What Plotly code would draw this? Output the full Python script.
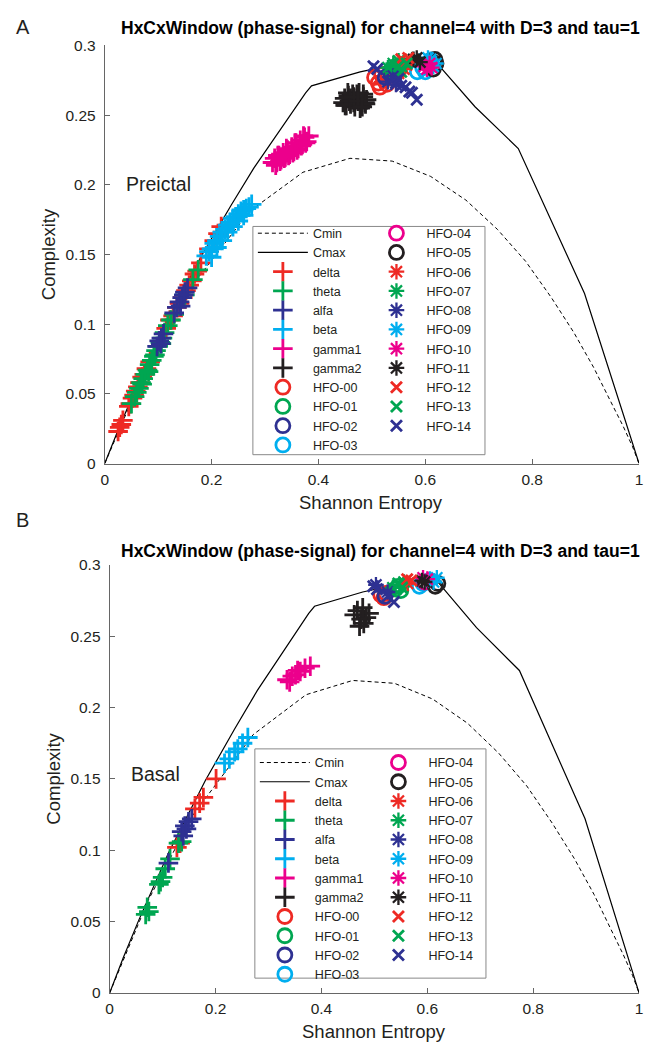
import plotly.graph_objects as go

# ---------------- data ----------------
CMAX_H = [0, 0.026, 0.055, 0.111, 0.181, 0.236, 0.279, 0.341, 0.376, 0.387, 0.478, 0.565, 0.613, 0.693, 0.774, 0.898, 1.0]
CMAX_C = [0, 0.025, 0.051, 0.098, 0.149, 0.185, 0.212, 0.247, 0.266, 0.271, 0.281, 0.288, 0.291, 0.256, 0.226, 0.122, 0.0]
CMIN_H = [0, 0.073, 0.156, 0.271, 0.371, 0.459, 0.538, 0.610, 0.676, 0.735, 0.788, 0.836, 0.878, 0.915, 0.945, 0.970, 0.988, 1.0]
CMIN_C = [0, 0.065, 0.124, 0.181, 0.209, 0.219, 0.217, 0.206, 0.189, 0.168, 0.145, 0.119, 0.094, 0.069, 0.046, 0.027, 0.012, 0.0]

BANDS = ["delta", "theta", "alfa", "beta", "gamma1", "gamma2"]
HFO_NAMES = ["HFO-%02d" % i for i in range(15)]

X_TICKS = [0, 0.2, 0.4, 0.6, 0.8, 1]
X_TICKTEXT = ["0", "0.2", "0.4", "0.6", "0.8", "1"]
Y_TICKS = [0, 0.05, 0.1, 0.15, 0.2, 0.25, 0.3]
Y_TICKTEXT = ["0", "0.05", "0.1", "0.15", "0.2", "0.25", "0.3"]

# Panel A (Preictal)
A_DELTA_H = [0.025, 0.028, 0.031, 0.034, 0.045, 0.048, 0.052, 0.055, 0.058, 0.062, 0.066, 0.070, 0.074, 0.078, 0.085,
             0.115, 0.122, 0.128, 0.135, 0.140, 0.146, 0.152, 0.158, 0.163, 0.168, 0.173, 0.180, 0.195, 0.205, 0.212, 0.218]
A_DELTA_C = [0.023, 0.026, 0.028, 0.031, 0.041, 0.043, 0.047, 0.049, 0.052, 0.055, 0.058, 0.062, 0.064, 0.068, 0.073,
             0.097, 0.103, 0.106, 0.112, 0.115, 0.119, 0.124, 0.128, 0.131, 0.136, 0.138, 0.144, 0.154, 0.160, 0.165, 0.170]
A_THETA_H = [0.050, 0.056, 0.060, 0.064, 0.068, 0.072, 0.076, 0.080, 0.084, 0.088, 0.092, 0.096, 0.100, 0.104, 0.108,
             0.112, 0.118, 0.124, 0.130, 0.150, 0.165, 0.175, 0.070, 0.082, 0.094, 0.106]
A_THETA_C = [0.043, 0.048, 0.051, 0.054, 0.058, 0.061, 0.064, 0.067, 0.071, 0.074, 0.077, 0.081, 0.084, 0.087, 0.090,
             0.094, 0.099, 0.103, 0.107, 0.121, 0.132, 0.139, 0.057, 0.066, 0.078, 0.086]
A_ALFA_H = [0.098, 0.102, 0.106, 0.110, 0.105, 0.130, 0.135, 0.140, 0.145, 0.150, 0.155, 0.142, 0.148]
A_ALFA_C = [0.084, 0.088, 0.090, 0.093, 0.086, 0.108, 0.112, 0.116, 0.119, 0.123, 0.126, 0.113, 0.121]
A_BETA_H = [0.190, 0.195, 0.200, 0.205, 0.210, 0.215, 0.220, 0.225, 0.230, 0.235, 0.240, 0.245, 0.250, 0.255, 0.260,
            0.265, 0.270, 0.275, 0.200, 0.210, 0.220, 0.230, 0.240, 0.250, 0.260]
A_BETA_C = [0.149, 0.152, 0.154, 0.158, 0.160, 0.163, 0.166, 0.168, 0.171, 0.173, 0.176, 0.177, 0.179, 0.181, 0.182,
            0.183, 0.184, 0.186, 0.148, 0.155, 0.160, 0.166, 0.170, 0.174, 0.178]
A_GAMMA1_H = [0.314, 0.318, 0.322, 0.326, 0.330, 0.334, 0.338, 0.342, 0.346, 0.350, 0.354, 0.358, 0.362, 0.366, 0.370,
              0.374, 0.378, 0.382, 0.320, 0.328, 0.336, 0.344, 0.352, 0.360, 0.368, 0.376, 0.324, 0.340, 0.356, 0.372]
A_GAMMA1_C = [0.216, 0.219, 0.216, 0.221, 0.218, 0.223, 0.220, 0.225, 0.222, 0.227, 0.224, 0.230, 0.226, 0.232, 0.229,
              0.234, 0.231, 0.235, 0.214, 0.217, 0.219, 0.221, 0.223, 0.225, 0.228, 0.230, 0.221, 0.226, 0.230, 0.235]
A_GAMMA2_H = [0.446, 0.449, 0.452, 0.456, 0.460, 0.464, 0.468, 0.472, 0.476, 0.480, 0.484, 0.487, 0.490, 0.450, 0.455,
              0.460, 0.466, 0.472, 0.478, 0.484, 0.488, 0.458, 0.466, 0.474, 0.482]
A_GAMMA2_C = [0.259, 0.262, 0.257, 0.264, 0.258, 0.265, 0.256, 0.262, 0.266, 0.257, 0.263, 0.259, 0.261, 0.257, 0.266,
              0.262, 0.259, 0.265, 0.255, 0.265, 0.258, 0.260, 0.263, 0.260, 0.256]
A_HFO_H = [
    [0.505, 0.512, 0.518, 0.523, 0.528, 0.515],
    [0.535, 0.545, 0.540, 0.550],
    [0.525, 0.535],
    [0.585, 0.595, 0.600],
    [0.605, 0.610],
    [0.615, 0.620, 0.618, 0.610],
    [0.550, 0.560, 0.565],
    [0.530, 0.540, 0.550, 0.555, 0.560, 0.545],
    [0.530, 0.540, 0.545],
    [0.590, 0.600, 0.610, 0.615, 0.605, 0.620],
    [0.598, 0.603, 0.608, 0.612],
    [0.578, 0.584, 0.590],
    [0.555, 0.563, 0.568],
    [0.550, 0.555, 0.565],
    [0.503, 0.510, 0.545, 0.555, 0.563, 0.570, 0.575, 0.584, 0.550],
]
A_HFO_C = [
    [0.277, 0.273, 0.279, 0.275, 0.272, 0.270],
    [0.282, 0.285, 0.279, 0.283],
    [0.277, 0.280],
    [0.281, 0.284, 0.281],
    [0.286, 0.288],
    [0.283, 0.287, 0.290, 0.289],
    [0.280, 0.283, 0.286],
    [0.284, 0.287, 0.289, 0.285, 0.289, 0.281],
    [0.274, 0.278, 0.272],
    [0.289, 0.287, 0.290, 0.285, 0.291, 0.287],
    [0.285, 0.283, 0.287, 0.284],
    [0.290, 0.291, 0.288],
    [0.290, 0.288, 0.291],
    [0.285, 0.281, 0.287],
    [0.285, 0.283, 0.273, 0.271, 0.270, 0.267, 0.266, 0.261, 0.276],
]

# Panel B (Basal)
B_DELTA_H = [0.127, 0.133, 0.161, 0.170, 0.177, 0.201]
B_DELTA_C = [0.102, 0.105, 0.129, 0.133, 0.137, 0.150]
B_THETA_H = [0.068, 0.071, 0.074, 0.093, 0.096, 0.100, 0.105, 0.114, 0.130, 0.136]
B_THETA_C = [0.055, 0.060, 0.057, 0.076, 0.078, 0.081, 0.087, 0.094, 0.105, 0.106]
B_ALFA_H = [0.111, 0.136, 0.142, 0.145, 0.149, 0.155, 0.139]
B_ALFA_C = [0.091, 0.113, 0.117, 0.115, 0.120, 0.122, 0.110]
B_BETA_H = [0.217, 0.226, 0.236, 0.242, 0.251, 0.261]
B_BETA_C = [0.161, 0.164, 0.169, 0.171, 0.175, 0.179]
B_GAMMA1_H = [0.335, 0.345, 0.351, 0.360, 0.369, 0.379, 0.340, 0.355]
B_GAMMA1_C = [0.2195, 0.222, 0.223, 0.2253, 0.2276, 0.229, 0.218, 0.226]
B_GAMMA2_H = [0.462, 0.468, 0.475, 0.480, 0.485, 0.472, 0.490, 0.478]
B_GAMMA2_C = [0.265, 0.268, 0.262, 0.259, 0.263, 0.257, 0.266, 0.270]
B_HFO_H = [
    [0.512, 0.518, 0.522],
    [0.540, 0.545, 0.550],
    [0.520],
    [0.585, 0.592],
    [0.595],
    [0.615, 0.620],
    [0.563],
    [0.548, 0.556, 0.535],
    [0.503, 0.525],
    [0.605, 0.612, 0.618],
    [0.592, 0.600],
    [0.590, 0.595],
    [0.562, 0.570],
    [0.552, 0.545],
    [0.498, 0.505, 0.525, 0.537],
]
B_HFO_C = [
    [0.279, 0.277, 0.280],
    [0.283, 0.285, 0.282],
    [0.278],
    [0.285, 0.287],
    [0.288],
    [0.285, 0.287],
    [0.287],
    [0.286, 0.288, 0.284],
    [0.286, 0.281],
    [0.290, 0.288, 0.291],
    [0.291, 0.290],
    [0.289, 0.288],
    [0.290, 0.289],
    [0.284, 0.287],
    [0.285, 0.283, 0.278, 0.274],
]

# ---------------- style ----------------
COLORS = ["#EE2A24", "#00A651", "#2E3192", "#00AEEF", "#EC008C", "#231F20"]
FONT = "Liberation Sans, Arial, sans-serif"
INK = "#231F20"
W, H = 646, 1055


def px_x(p):
    return p / W


def px_y(p):
    return 1 - p / H


fig = go.Figure()


def add_panel(xa, ya, leg1, leg2, band_h, band_c, hfo_h, hfo_c):
    fig.add_trace(go.Scatter(x=CMIN_H, y=CMIN_C, mode="lines", name="Cmin", xaxis=xa, yaxis=ya,
                             line=dict(color="black", width=1, dash="4px,3px"), legend=leg1))
    fig.add_trace(go.Scatter(x=CMAX_H, y=CMAX_C, mode="lines", name="Cmax", xaxis=xa, yaxis=ya,
                             line=dict(color="black", width=1.2), legend=leg1))
    for i, name in enumerate(BANDS):
        fig.add_trace(go.Scatter(x=band_h[i], y=band_c[i], mode="markers", name=name, xaxis=xa, yaxis=ya,
                                 legend=leg1,
                                 marker=dict(symbol="cross-thin", size=14, color=COLORS[i],
                                             line=dict(color=COLORS[i], width=2.8))))
    for k, name in enumerate(HFO_NAMES):
        if k < 6:
            sym, size, lw = "circle-open", 14, 2.8
        elif k < 12:
            sym, size, lw = "asterisk-open", 13, 2.3
        else:
            sym, size, lw = "x-thin", 11, 2.8
        col = COLORS[k % 6]
        fig.add_trace(go.Scatter(x=hfo_h[k], y=hfo_c[k], mode="markers", name=name, xaxis=xa, yaxis=ya,
                                 legend=leg1 if k < 4 else leg2,
                                 marker=dict(symbol=sym, size=size, color=col,
                                             line=dict(color=col, width=lw))))


add_panel("x", "y", "legend", "legend2",
          [A_DELTA_H, A_THETA_H, A_ALFA_H, A_BETA_H, A_GAMMA1_H, A_GAMMA2_H],
          [A_DELTA_C, A_THETA_C, A_ALFA_C, A_BETA_C, A_GAMMA1_C, A_GAMMA2_C],
          A_HFO_H, A_HFO_C)
add_panel("x2", "y2", "legend3", "legend4",
          [B_DELTA_H, B_THETA_H, B_ALFA_H, B_BETA_H, B_GAMMA1_H, B_GAMMA2_H],
          [B_DELTA_C, B_THETA_C, B_ALFA_C, B_BETA_C, B_GAMMA1_C, B_GAMMA2_C],
          B_HFO_H, B_HFO_C)

axis_common = dict(showline=True, linecolor="#666666", linewidth=1, ticks="inside", ticklen=5,
                   tickcolor="#666666", showgrid=False, zeroline=False, mirror=False,
                   ticklabeloverflow="allow",
                   tickfont=dict(family=FONT, size=15.5, color=INK))
xcommon = dict(axis_common, range=[0, 1], tickvals=X_TICKS, ticktext=X_TICKTEXT, ticklabelstandoff=2)
ycommon = dict(axis_common, range=[0, 0.3], tickvals=Y_TICKS, ticktext=Y_TICKTEXT, ticklabelstandoff=5,
               title=dict(text="Complexity", font=dict(family=FONT, size=18.5, color=INK), standoff=4))

legend_common = dict(xanchor="left", yanchor="top", bgcolor="rgba(0,0,0,0)", borderwidth=0,
                     tracegroupgap=0, itemclick=False, itemwidth=50,
                     font=dict(family=FONT, size=12.5, color=INK))

title_txt = "<b>HxCxWindow (phase-signal) for channel=4 with D=3 and tau=1</b>"


def ann(text, x, y, size, anchor="center", color=INK):
    return dict(text=text, x=px_x(x), y=px_y(y), xref="paper", yref="paper", showarrow=False,
                xanchor=anchor, yanchor="middle", font=dict(family=FONT, size=size, color=color))


fig.update_layout(
    width=W, height=H, margin=dict(l=0, r=0, t=0, b=0),
    paper_bgcolor="white", plot_bgcolor="white", showlegend=True,
    xaxis=dict(xcommon, domain=[px_x(102), px_x(643)], anchor="y"),
    yaxis=dict(ycommon, domain=[px_y(462), px_y(37)], anchor="x"),
    xaxis2=dict(xcommon, domain=[px_x(107), px_x(643)], anchor="y2"),
    yaxis2=dict(ycommon, domain=[px_y(1000), px_y(565)], anchor="x2"),
    legend=dict(legend_common, x=px_x(252), y=px_y(213)),
    legend2=dict(legend_common, x=px_x(367), y=px_y(213)),
    legend3=dict(legend_common, x=px_x(254), y=px_y(751)),
    legend4=dict(legend_common, x=px_x(369), y=px_y(751)),
    shapes=[
        dict(type="rect", xref="paper", yref="paper", x0=px_x(252), x1=px_x(487), y0=px_y(453), y1=px_y(221),
             line=dict(color="#888888", width=1), fillcolor="white", layer="above"),
        dict(type="rect", xref="paper", yref="paper", x0=px_x(254), x1=px_x(488), y0=px_y(985), y1=px_y(752),
             line=dict(color="#888888", width=1), fillcolor="white", layer="above"),
    ],
    annotations=[
        ann(title_txt, 381, 19, 17.5, color="black"),
        ann(title_txt, 381, 551, 17.5, color="black"),
        ann("A", 10, 18, 20, anchor="left"),
        ann("B", 10, 519, 20, anchor="left"),
        ann("Preictal", 122, 178, 19.5, anchor="left"),
        ann("Basal", 127, 778, 19.5, anchor="left"),
        ann("Shannon Entropy", 372, 502, 18.5),
        ann("Shannon Entropy", 375, 1039, 18.5),
    ],
)

fig.write_html("out.html")
